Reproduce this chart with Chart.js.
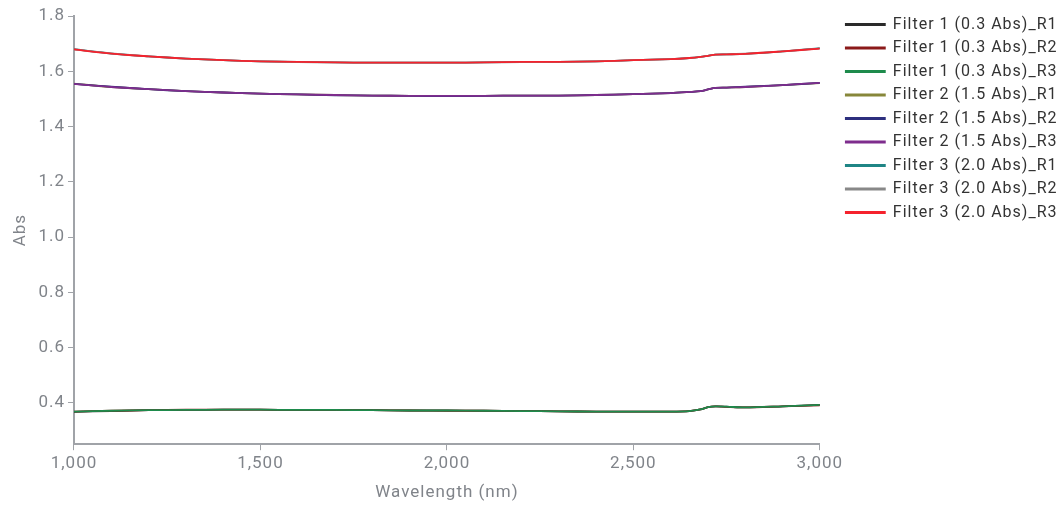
<!DOCTYPE html>
<html><head><meta charset="utf-8">
<script src="https://cdn.jsdelivr.net/npm/chart.js@4.4.1/dist/chart.umd.min.js"></script>
<style>html,body{margin:0;padding:0;background:#fff}#wrap{width:1060px;height:507px}</style>
</head><body><div id="wrap"><canvas id="c" width="1060" height="507"></canvas></div>
<script>
const wavelengths = [1000,1100,1200,1300,1400,1500,1600,1700,1800,1900,2000,2100,2200,2300,2400,2500,2600,2650,2680,2700,2720,2750,2800,2900,3000];
const f1r1 = [0.367,0.370,0.373,0.374,0.375,0.375,0.374,0.374,0.373,0.372,0.372,0.371,0.370,0.369,0.368,0.368,0.368,0.370,0.376,0.384,0.387,0.386,0.383,0.387,0.392];
const f1r2 = [0.368,0.371,0.373,0.375,0.375,0.375,0.374,0.374,0.373,0.372,0.371,0.371,0.370,0.369,0.368,0.368,0.368,0.370,0.376,0.384,0.387,0.385,0.383,0.387,0.391];
const f1r3 = [0.368,0.371,0.373,0.374,0.375,0.375,0.374,0.374,0.373,0.372,0.372,0.371,0.370,0.369,0.368,0.368,0.368,0.370,0.376,0.384,0.387,0.386,0.383,0.387,0.392];
const f2r1 = [1.555,1.543,1.535,1.528,1.523,1.519,1.516,1.514,1.512,1.511,1.511,1.511,1.512,1.512,1.514,1.517,1.521,1.525,1.528,1.534,1.540,1.541,1.543,1.550,1.557];
const f2r2 = [1.554,1.544,1.535,1.528,1.523,1.519,1.516,1.513,1.512,1.511,1.510,1.511,1.512,1.512,1.514,1.517,1.521,1.525,1.528,1.534,1.540,1.541,1.544,1.550,1.558];
const f2r3 = [1.554,1.543,1.535,1.528,1.523,1.519,1.516,1.514,1.512,1.511,1.511,1.511,1.512,1.512,1.514,1.517,1.521,1.525,1.528,1.534,1.540,1.541,1.543,1.550,1.558];
const f3r1 = [1.680,1.664,1.654,1.646,1.640,1.636,1.634,1.632,1.631,1.631,1.631,1.632,1.634,1.634,1.636,1.640,1.644,1.648,1.652,1.656,1.660,1.661,1.663,1.672,1.684];
const f3r2 = [1.679,1.665,1.654,1.646,1.640,1.636,1.633,1.632,1.631,1.631,1.631,1.632,1.633,1.634,1.636,1.640,1.644,1.648,1.652,1.656,1.660,1.661,1.664,1.672,1.683];
const f3r3 = [1.679,1.664,1.654,1.646,1.640,1.636,1.634,1.632,1.631,1.631,1.631,1.632,1.634,1.634,1.636,1.640,1.644,1.648,1.652,1.656,1.660,1.661,1.663,1.672,1.682];
const seriesNames = ["Filter 1 (0.3 Abs)_R1","Filter 1 (0.3 Abs)_R2","Filter 1 (0.3 Abs)_R3","Filter 2 (1.5 Abs)_R1","Filter 2 (1.5 Abs)_R2","Filter 2 (1.5 Abs)_R3","Filter 3 (2.0 Abs)_R1","Filter 3 (2.0 Abs)_R2","Filter 3 (2.0 Abs)_R3"];
const seriesValues = [f1r1,f1r2,f1r3,f2r1,f2r2,f2r3,f3r1,f3r2,f3r3];
const seriesColors = ["#2a2a2a","#8b1a1a","#1e8b4c","#87873a","#2d2f7e","#7e2d8d","#1f8585","#888888","#f5222d"];
const xTicks = [1000,1500,2000,2500,3000];
const yTicks = [0.4,0.6,0.8,1.0,1.2,1.4,1.6,1.8];

const datasets = seriesNames.map((name,i)=>({
  label:name,
  order: seriesNames.length - i,
  data: wavelengths.map((w,j)=>({x:w,y:seriesValues[i][j]})),
  borderColor:seriesColors[i],
  backgroundColor:seriesColors[i],
  borderWidth:1.8,
  pointRadius:0,
  tension:0.3
}));
const LEGEND_EXTRA_W = 11, LEGEND_SHIFT_X = 18.5, LEGEND_SHIFT_Y = -7;
const spacingPlugin = {
  id:'spacing',
  beforeLayout(chart){
    chart.ctx.letterSpacing = '1px';
    const lg = chart.legend;
    if (lg && !lg._patched){
      const f = lg.fit;
      lg.fit = function(){ f.call(this); this.width += LEGEND_EXTRA_W; };
      lg._patched = true;
    }
  },
  afterLayout(chart){
    const lg = chart.legend;
    if (lg){ lg.left += LEGEND_SHIFT_X; lg.top += LEGEND_SHIFT_Y; lg.bottom += LEGEND_SHIFT_Y; }
  },
  beforeDraw(chart){ chart.ctx.letterSpacing = '1px'; }
};
const gridCol = '#a0a3a8', tickCol = '#80848a';
new Chart(document.getElementById('c'),{
  type:'line',
  data:{datasets},
  plugins:[spacingPlugin],
  options:{
    responsive:false, animation:false,
    layout:{padding:{top:16,right:0,left:7,bottom:4}},
    plugins:{
      legend:{position:'right',align:'start',
        labels:{boxWidth:39,boxHeight:1.2,padding:7.5,color:'#333',font:{family:'Roboto',size:16},
          sort:(a,b)=>a.datasetIndex-b.datasetIndex}},
      tooltip:{enabled:false}
    },
    scales:{
      x:{type:'linear',min:1000,max:3000,
        afterBuildTicks:s=>{s.ticks=xTicks.map(v=>({value:v}));},
        grid:{drawOnChartArea:false,color:gridCol,tickLength:6},
        border:{color:gridCol,width:2},
        ticks:{color:tickCol,font:{family:'Roboto',size:17},maxRotation:0,callback:v=>v.toLocaleString('en-US')},
        title:{display:true,text:'Wavelength (nm)',color:tickCol,font:{family:'Roboto',size:17},padding:{top:6,bottom:0}}},
      y:{min:0.25,max:1.8,
        afterBuildTicks:s=>{s.ticks=yTicks.map(v=>({value:v}));},
        grid:{drawOnChartArea:false,color:gridCol,tickLength:6},
        border:{color:gridCol,width:2},
        ticks:{color:tickCol,font:{family:'Roboto',size:17},callback:v=>Number(v).toFixed(1)},
        title:{display:true,text:'Abs',color:tickCol,font:{family:'Roboto',size:17}}}
    }
  }
});
</script></body></html>
